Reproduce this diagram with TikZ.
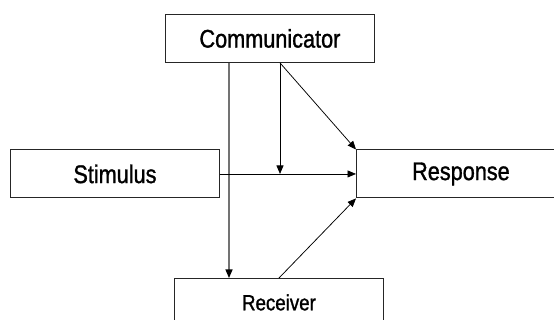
\documentclass[tikz,border=0pt]{standalone}
\usepackage{fontspec}
\setmainfont[FakeStretch=0.85,FakeBold=1.2]{Liberation Sans}
\usetikzlibrary{arrows.meta}
\begin{document}
\begin{tikzpicture}[x=1pt,y=-1pt,
  tip/.tip={Triangle[length=8.5pt,width=7pt]},
  box/.style={draw=black!85,line width=0.9pt,minimum width=209pt,minimum height=48pt,
    inner sep=0pt,anchor=north west,font=\fontsize{25.5}{29}\selectfont},
  link/.style={draw=black,line width=0.75pt,-tip},
  trunk/.style={draw=black!55,line width=1.3pt,
    arrows={-{Triangle[length=8.5pt,width=7pt,color=black]}}}]
\useasboundingbox (0,0) rectangle (554,320);
\clip (0,0) rectangle (554,320);
% the four boxes
\node[box] (comm) at (165,14) {Communicator};
\node[box] (stim) at (10,149.5) {Stimulus};
\node[box] (resp) at (356,149.5) {Response};
\node[box,font=\fontsize{22}{25}\selectfont] (recv) at (174,278) {Receiver};
% branch points on the communicator box and the receiver box
\coordinate (cA) at ([xshift=64pt]comm.south west);
\coordinate (cB) at ([xshift=115pt]comm.south west);
\coordinate (rA) at ([xshift=105pt]recv.north west);
% connectors
\draw[trunk] (cA) -- (cA |- recv.north);
\draw[link] (stim.east) -- (resp.west);
\draw[link] (cB) -- (cB |- stim.east);
\draw[link] (cB) -- (resp.north west);
\draw[link] (rA) -- (resp.south west);
\end{tikzpicture}
\end{document}
